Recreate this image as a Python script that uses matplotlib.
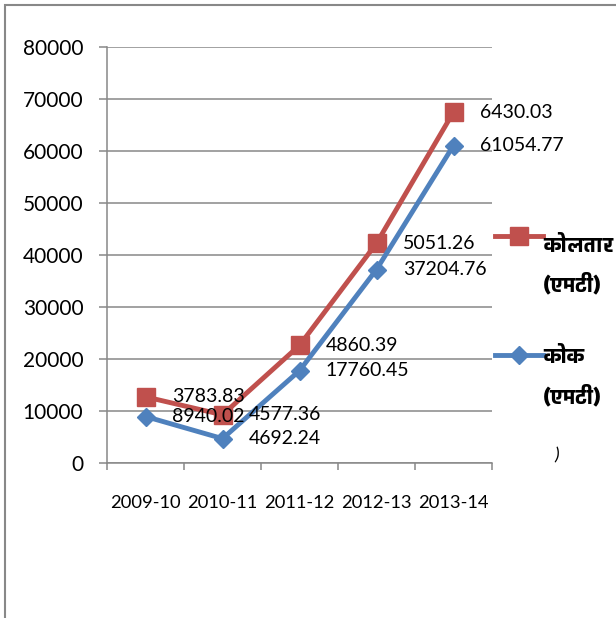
import matplotlib
matplotlib.use("Agg")
import matplotlib.pyplot as plt
from matplotlib import font_manager
from matplotlib.ft2font import FT2Font
from matplotlib.lines import Line2D
from matplotlib.patches import Rectangle

years = ["2009-10", "2010-11", "2011-12", "2012-13", "2013-14"]
coke = [8940.02, 4692.24, 17760.45, 37204.76, 61054.77]
coal_tar = [3783.83, 4577.36, 4860.39, 5051.26, 6430.03]
series_names = ["कोलतार\n(एमटी)", "कोक\n(एमटी)"]

RED = "#C0504D"
BLUE = "#4F81BD"
GRID = "#888888"


def find_font(ch):
    # any installed font with this glyph, bold one if there is one
    found = []
    for f in font_manager.fontManager.ttflist:
        try:
            if ord(ch) in FT2Font(f.fname).get_charmap():
                found.append(f)
        except Exception:
            pass
    if not found:
        return None
    found.sort(key=lambda f: -(f.weight if isinstance(f.weight, int) else 400))
    return found[0]


installed = {f.name for f in font_manager.fontManager.ttflist}
base = "Lato" if "Lato" in installed else "DejaVu Sans"
plt.rcParams["font.family"] = [base, "DejaVu Sans"]
deva = find_font("क")
if deva is not None:
    leg_font = font_manager.FontProperties(fname=deva.fname, size=15)
else:
    leg_font = font_manager.FontProperties(family=[base, "DejaVu Sans"], size=15, weight="bold")

# stacked line chart: coal tar sits on top of coke
stacked = [a + b for a, b in zip(coke, coal_tar)]

W, H = 616, 618
fig = plt.figure(figsize=(W / 100, H / 100), dpi=100)
ax = fig.add_axes([107 / W, 1 - 463 / H, 385 / W, 416 / H])

x = list(range(len(years)))
ax.plot(x, stacked, color=RED, lw=3.5, marker="s", ms=13, zorder=3)
ax.plot(x, coke, color=BLUE, lw=3.5, marker="D", ms=9.5, zorder=4)

for xi, y, lab in zip(x, stacked, coal_tar):
    ax.annotate("%.2f" % lab, (xi, y), xytext=(19, 0), textcoords="offset points",
                va="center", ha="left", fontsize=14, zorder=5)
for xi, y, lab in zip(x, coke, coke):
    ax.annotate("%.2f" % lab, (xi, y), xytext=(19, 0), textcoords="offset points",
                va="center", ha="left", fontsize=14, zorder=5)

ax.set_xlim(-0.5, len(years) - 0.5)
ax.set_ylim(0, 80000)
ax.set_yticks(range(0, 80001, 10000))
ax.set_xticks(x)
ax.set_xticklabels(years)
ax.set_xticks([i - 0.5 for i in range(len(years) + 1)], minor=True)
ax.yaxis.grid(True, color=GRID, lw=1.1)
ax.set_axisbelow(True)
for s in ["top", "right"]:
    ax.spines[s].set_visible(False)
for s in ["left", "bottom"]:
    ax.spines[s].set_color(GRID)
    ax.spines[s].set_linewidth(1.1)
ax.tick_params(axis="y", length=6, width=1.1, color=GRID, pad=11, labelsize=15)
ax.tick_params(axis="x", which="major", length=0, pad=23, labelsize=13.2)
ax.tick_params(axis="x", which="minor", length=5, width=1.1, color=GRID)

# legend drawn by hand so the key lines up with the first text line
legend_rows = [(RED, "s", 13, 236, 246, 285), (BLUE, "D", 9.5, 355, 357, 397)]
for (col, mk, ms, ly, t1, t2), name in zip(legend_rows, series_names):
    first, second = name.split("\n")
    fig.add_artist(Line2D([495 / W, 519 / W, 543 / W], [1 - ly / H] * 3, color=col, lw=3.5,
                          marker=mk, ms=ms, markevery=[1], transform=fig.transFigure))
    fig.text(543 / W, 1 - t1 / H, first, ha="left", va="center", fontproperties=leg_font)
    fig.text(543 / W, 1 - t2 / H, second, ha="left", va="center", fontproperties=leg_font)
fig.text(557 / W, 1 - 455 / H, ")", ha="center", va="center", fontsize=13, style="italic")

# chart area border, cut off at the right and bottom
fig.add_artist(Rectangle((5 / W, -0.1), 1.2, 1 - 5 / H + 0.1, transform=fig.transFigure,
                         fill=False, edgecolor=GRID, lw=1.5))

fig.savefig("out.png", dpi=100)
